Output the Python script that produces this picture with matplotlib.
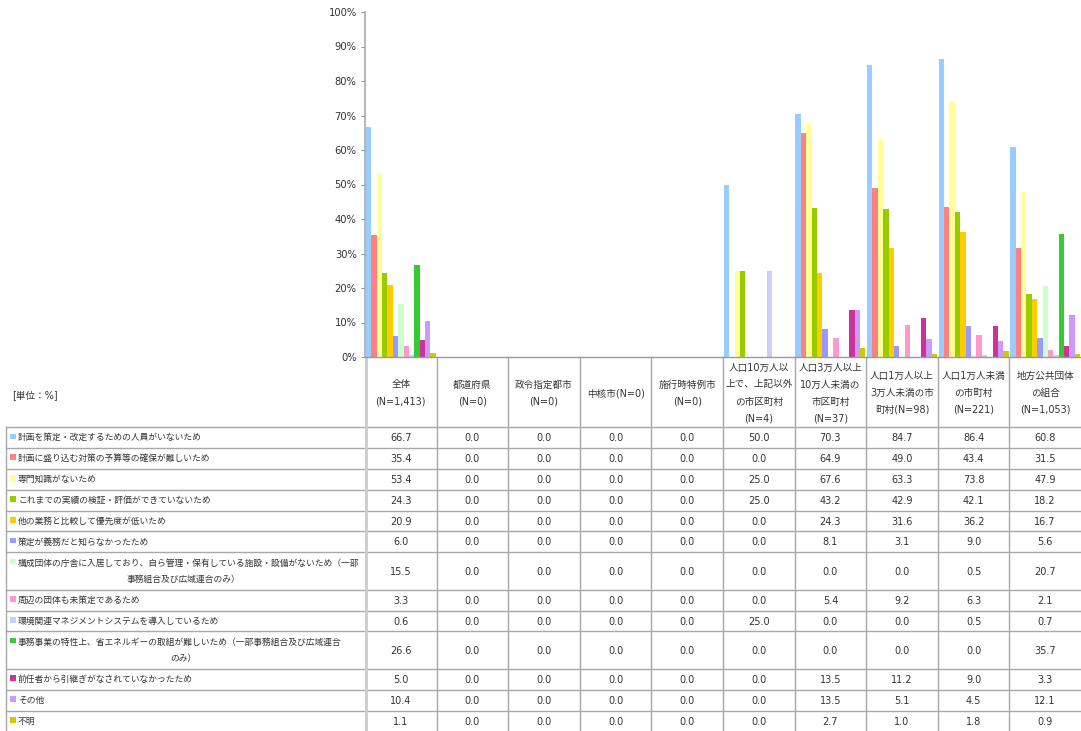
#!/usr/bin/env python3
# -*- coding: utf-8 -*-

import numpy as np
import matplotlib
matplotlib.use("Agg")
import matplotlib.pyplot as plt
from matplotlib.patches import Rectangle

plt.rcParams['font.family'] = ['Noto Sans CJK JP', 'DejaVu Sans']

# DATA ########################################################################

categories = [
    "全体\n(N=1,413)",
    "都道府県\n(N=0)",
    "政令指定都市\n(N=0)",
    "中核市(N=0)",
    "施行時特例市\n(N=0)",
    "人口10万人以\n上で、上記以外\nの市区町村\n(N=4)",
    "人口3万人以上\n10万人未満の\n市区町村\n(N=37)",
    "人口1万人以上\n3万人未満の市\n町村(N=98)",
    "人口1万人未満\nの市町村\n(N=221)",
    "地方公共団体\nの組合\n(N=1,053)",
]

series_labels = [
    "計画を策定・改定するための人員がいないため",
    "計画に盛り込む対策の予算等の確保が難しいため",
    "専門知識がないため",
    "これまでの実績の検証・評価ができていないため",
    "他の業務と比較して優先度が低いため",
    "策定が義務だと知らなかったため",
    "構成団体の庁舎に入居しており、自ら管理・保有している施設・設備がないため（一部\n事務組合及び広域連合のみ）",
    "周辺の団体も未策定であるため",
    "環境関連マネジメントシステムを導入しているため",
    "事務事業の特性上、省エネルギーの取組が難しいため（一部事務組合及び広域連合\nのみ）",
    "前任者から引継ぎがなされていなかったため",
    "その他",
    "不明",
]

s01 = [66.7, 0.0, 0.0, 0.0, 0.0, 50.0, 70.3, 84.7, 86.4, 60.8]
s02 = [35.4, 0.0, 0.0, 0.0, 0.0, 0.0, 64.9, 49.0, 43.4, 31.5]
s03 = [53.4, 0.0, 0.0, 0.0, 0.0, 25.0, 67.6, 63.3, 73.8, 47.9]
s04 = [24.3, 0.0, 0.0, 0.0, 0.0, 25.0, 43.2, 42.9, 42.1, 18.2]
s05 = [20.9, 0.0, 0.0, 0.0, 0.0, 0.0, 24.3, 31.6, 36.2, 16.7]
s06 = [6.0, 0.0, 0.0, 0.0, 0.0, 0.0, 8.1, 3.1, 9.0, 5.6]
s07 = [15.5, 0.0, 0.0, 0.0, 0.0, 0.0, 0.0, 0.0, 0.5, 20.7]
s08 = [3.3, 0.0, 0.0, 0.0, 0.0, 0.0, 5.4, 9.2, 6.3, 2.1]
s09 = [0.6, 0.0, 0.0, 0.0, 0.0, 25.0, 0.0, 0.0, 0.5, 0.7]
s10 = [26.6, 0.0, 0.0, 0.0, 0.0, 0.0, 0.0, 0.0, 0.0, 35.7]
s11 = [5.0, 0.0, 0.0, 0.0, 0.0, 0.0, 13.5, 11.2, 9.0, 3.3]
s12 = [10.4, 0.0, 0.0, 0.0, 0.0, 0.0, 13.5, 5.1, 4.5, 12.1]
s13 = [1.1, 0.0, 0.0, 0.0, 0.0, 0.0, 2.7, 1.0, 1.8, 0.9]

series_values = [s01, s02, s03, s04, s05, s06, s07, s08, s09, s10, s11, s12, s13]

colors = ["#99CCFF", "#FF8080", "#FFFF99", "#99CC00", "#FFCC00", "#9999FF",
          "#CCFFCC", "#FF99CC", "#CCCCFF", "#33CC33", "#CC3399", "#CC99FF",
          "#CCCC00"]

unit_label = "[単位：%]"

# LAYOUT (pixels) #############################################################

W, H = 1081, 731
PLOT_L, PLOT_R, PLOT_T, PLOT_B = 365, 1081, 12, 357
TABLE_L = 6
HEADER_B = 427
ROW_H1, ROW_H2 = 20.9, 37.3
LINE_COL = "#a8a8a8"
TEXT_COL = "#333333"
HEAD_FONT = ['DejaVu Sans', 'Noto Sans CJK JP']


def main():

    fig = plt.figure(figsize=(W / 100, H / 100), dpi=100)

    # BAR CHART ###############################################################

    ax = fig.add_axes([PLOT_L / W, 1 - PLOT_B / H,
                       (PLOT_R - PLOT_L) / W, (PLOT_B - PLOT_T) / H])

    n_groups = len(categories)
    bar_w = 0.0752
    x0 = np.arange(n_groups) + 0.012

    for k, vals in enumerate(series_values):
        ax.bar(x0 + k * bar_w, vals, width=bar_w, align="edge",
               color=colors[k], linewidth=0, zorder=2)

    ax.set_xlim(0, n_groups)
    ax.set_ylim(0, 100)
    ax.set_yticks(np.arange(0, 101, 10))
    ax.set_yticklabels(["{}%".format(v) for v in range(0, 101, 10)],
                       fontsize=7.2, family="DejaVu Sans", color=TEXT_COL)
    ax.set_xticks([])
    ax.tick_params(axis="y", length=3, width=0.8, color="#999999", pad=3)
    for side in ("top", "right"):
        ax.spines[side].set_visible(False)
    ax.spines["left"].set_color("#aaaaaa")
    ax.spines["left"].set_linewidth(1.2)
    ax.spines["bottom"].set_color("#999999")
    ax.spines["bottom"].set_linewidth(1.0)
    ax.patch.set_alpha(0)

    # TABLE ###################################################################

    tab = fig.add_axes([0, 0, 1, 1], zorder=-1)
    tab.set_xlim(0, W)
    tab.set_ylim(H, 0)
    tab.axis("off")

    col_w = (PLOT_R - PLOT_L) / n_groups
    col_edges = [PLOT_L + i * col_w for i in range(n_groups + 1)]

    # header texts
    tab.text(12, 396, unit_label, ha="left", va="center", fontsize=6.9,
             family=HEAD_FONT, color=TEXT_COL)
    for i, cat in enumerate(categories):
        lines = cat.split("\n")
        cx = (col_edges[i] + col_edges[i + 1]) / 2
        y_start = 393 - (len(lines) - 1) * 17 / 2
        for j, ln in enumerate(lines):
            tab.text(cx, y_start + j * 17, ln, ha="center", va="center",
                     fontsize=6.9, family=HEAD_FONT, color=TEXT_COL)

    # rows
    y = HEADER_B
    row_tops = []
    for k, lab in enumerate(series_labels):
        lines = lab.split("\n")
        h = ROW_H1 if len(lines) == 1 else ROW_H2
        row_tops.append(y)
        # colour key
        tab.add_patch(Rectangle((10, y + 6.5), 5.5, 5.5, color=colors[k],
                                linewidth=0))
        tab.text(18, y + 10.5, lines[0], ha="left", va="center",
                 fontsize=6.3, color=TEXT_COL)
        if len(lines) > 1:
            tab.text(183, y + 27, lines[1], ha="center", va="center",
                     fontsize=6.3, color=TEXT_COL)
        for i, v in enumerate(series_values[k]):
            cx = (col_edges[i] + col_edges[i + 1]) / 2
            tab.text(cx, y + h / 2 + 0.5, "{:.1f}".format(v), ha="center",
                     va="center", fontsize=7.0, family="DejaVu Sans",
                     color=TEXT_COL)
        y += h
    bottom = y

    # grid lines
    for yy in row_tops:
        tab.plot([TABLE_L, W], [yy, yy], color=LINE_COL, lw=1.0)
    tab.plot([TABLE_L, TABLE_L], [HEADER_B, bottom], color=LINE_COL, lw=1.0)
    tab.plot([PLOT_L + 0.5, PLOT_L + 0.5], [PLOT_B, bottom], color="#cccccc",
             lw=2.0)
    for xx in col_edges[1:-1]:
        tab.plot([xx, xx], [PLOT_B, bottom], color=LINE_COL, lw=1.0)

    plt.savefig("out.png", dpi=100)


if __name__ == "__main__":
    main()
